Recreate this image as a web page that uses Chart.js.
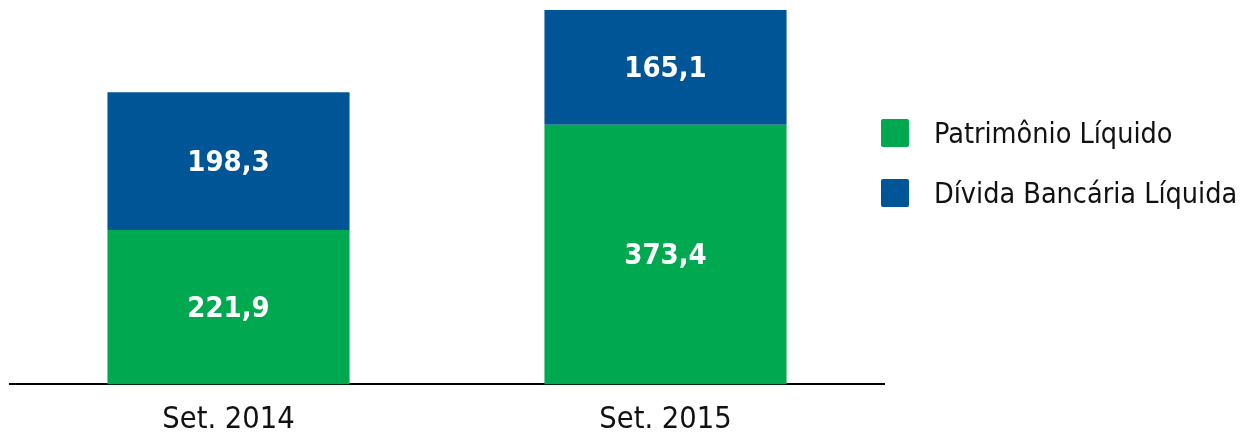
<!DOCTYPE html>
<html>
<head>
<meta charset="utf-8">
<script src="https://cdn.jsdelivr.net/npm/chart.js@4"></script>
<style>
  body { margin: 0; background: #fff; }
  #wrap { position: relative; width: 1245px; height: 432px; overflow: hidden; }
  #legend { position: absolute; left: 881px; top: 119px; font-family: "DejaVu Sans Condensed", "DejaVu Sans", sans-serif; font-size: 28.5px; color: #111; }
  .item { display: flex; align-items: center; height: 28px; margin-bottom: 32px; }
  .box { width: 28px; height: 28px; border-radius: 2px; margin-right: 25px; }
</style>
</head>
<body>
<div id="wrap">
  <canvas id="chart" width="1245" height="432"></canvas>
  <div id="legend"></div>
</div>
<script>
const categories = ['Set. 2014', 'Set. 2015'];
const patrimonio = [221.9, 373.4];
const divida = [198.3, 165.1];
const seriesNames = ['Patrimônio Líquido', 'Dívida Bancária Líquida'];
const colors = ['#00A94F', '#005597'];

const fontFamily = '"DejaVu Sans Condensed", "DejaVu Sans", sans-serif';

// rótulos brancos dentro de cada segmento
const valueLabels = {
    id: 'valueLabels',
    afterDatasetsDraw(chart) {
        const ctx = chart.ctx;
        ctx.save();
        ctx.fillStyle = '#fff';
        ctx.font = 'bold 29px ' + fontFamily;
        ctx.textAlign = 'center';
        ctx.textBaseline = 'middle';
        chart.data.datasets.forEach((ds, i) => {
            chart.getDatasetMeta(i).data.forEach((bar, j) => {
                const mid = (bar.y + bar.base) / 2;
                ctx.fillText(ds.data[j].toFixed(1).replace('.', ','), bar.x, mid + 2);
            });
        });
        ctx.restore();
    }
};

const chart = new Chart(document.getElementById('chart').getContext('2d'), {
    type: 'bar',
    data: {
        labels: categories,
        datasets: [{
            label: seriesNames[0],
            data: patrimonio,
            backgroundColor: colors[0]
        }, {
            label: seriesNames[1],
            data: divida,
            backgroundColor: colors[1]
        }]
    },
    options: {
        responsive: false,
        animation: false,
        datasets: {
            bar: { categoryPercentage: 1, barPercentage: 0.554 }
        },
        layout: { padding: { left: 10, right: 361, top: 10, bottom: -15 } },
        plugins: {
            legend: { display: false },
            tooltip: { enabled: false }
        },
        scales: {
            x: {
                stacked: true,
                grid: { display: false },
                border: { display: true, color: '#000', width: 2 },
                ticks: { color: '#111', font: { family: fontFamily, size: 30.5 }, padding: 9 }
            },
            y: {
                stacked: true,
                display: false,
                min: 0,
                max: 538.5
            }
        }
    },
    plugins: [valueLabels]
});

const legend = document.getElementById('legend');
seriesNames.forEach((name, i) => {
    const item = document.createElement('div');
    item.className = 'item';
    item.innerHTML = '<span class="box" style="background:' + colors[i] + '"></span><span>' + name + '</span>';
    legend.appendChild(item);
});
</script>
</body>
</html>
